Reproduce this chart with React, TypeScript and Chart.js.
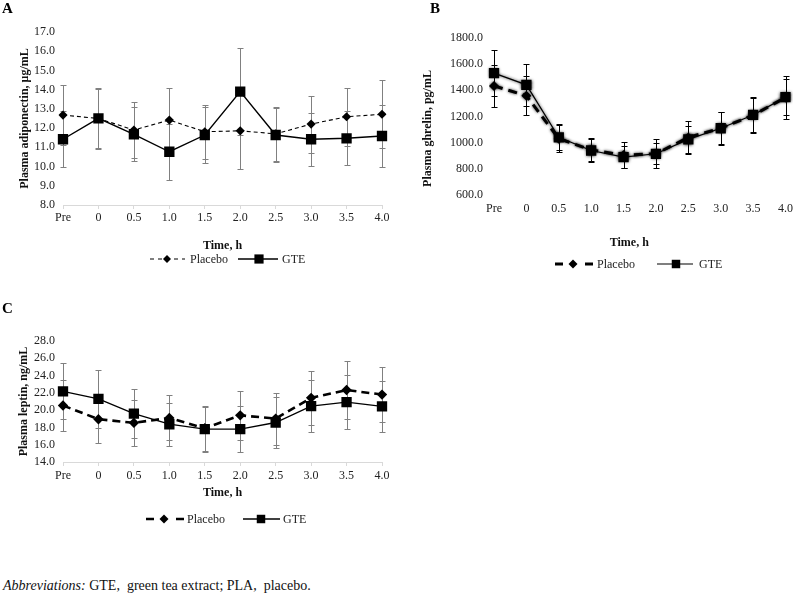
import React, { useEffect, useRef } from 'react';
import { Chart, registerables } from 'chart.js';

Chart.register(...registerables);
Chart.defaults.font.family = '"Liberation Serif", "Times New Roman", serif';

// ---------- DATA ----------
const timeLabels = ['Pre', '0', '0.5', '1.0', '1.5', '2.0', '2.5', '3.0', '3.5', '4.0'];

// Panel A: Plasma adiponectin, µg/mL
const adiponectinPlacebo = [12.68, 12.5, 11.9, 12.42, 11.81, 11.86, 11.7, 12.21, 12.59, 12.72];
const adiponectinPlaceboErr = [1.55, 1.55, 1.45, 1.65, 1.4, 2.0, 1.4, 1.48, 1.5, 1.77];
const adiponectinGTE = [11.42, 12.51, 11.68, 10.77, 11.64, 13.9, 11.64, 11.42, 11.47, 11.59];
const adiponectinGTEErr = [1.46, 1.6, 1.4, 1.45, 1.45, 2.25, 1.4, 1.37, 1.4, 1.6];

// Panel B: Plasma ghrelin, pg/mL
const ghrelinPlacebo = [1434, 1358, 1030, 945, 905, 915, 1040, 1110, 1210, 1345];
const ghrelinPlaceboErr = [158, 150, 105, 87, 98, 110, 125, 125, 134, 165];
const ghrelinGTE = [1532, 1442, 1041, 940, 890, 915, 1025, 1110, 1212, 1348];
const ghrelinGTEErr = [176, 160, 100, 87, 85, 80, 105, 122, 134, 138];

// Panel C: Plasma leptin, ng/mL
const leptinPlacebo = [20.54, 18.95, 18.53, 19.1, 17.9, 19.4, 19.02, 21.42, 22.33, 21.8];
const leptinPlaceboErr = [2.95, 2.8, 2.7, 2.6, 2.6, 2.8, 3.0, 3.1, 3.4, 3.2];
const leptinGTE = [22.18, 21.31, 19.59, 18.37, 17.8, 17.8, 18.57, 20.47, 20.93, 20.43];
const leptinGTEErr = [3.24, 3.34, 2.85, 2.5, 2.6, 2.7, 3.0, 3.0, 3.1, 2.95];

const seriesNames = ['Placebo', 'GTE'];

// ---------- PLUGINS ----------
const errorBarPlugin = {
  id: 'errorBars',
  beforeDatasetsDraw(chart: any, _args: any, opts: any) {
    const ctx = chart.ctx;
    const yScale = chart.scales.y;
    const cap = opts.cap ?? 3;
    ctx.save();
    ctx.strokeStyle = opts.color || '#808080';
    ctx.lineWidth = opts.width ?? 1;
    chart.data.datasets.forEach((ds: any, i: number) => {
      const errs: number[] | undefined = ds.errors;
      if (!errs) return;
      const meta = chart.getDatasetMeta(i);
      meta.data.forEach((pt: any, j: number) => {
        const v = ds.data[j];
        const e = errs[j];
        const x = Math.round(pt.x) + 0.5;
        const yT = Math.round(yScale.getPixelForValue(v + e)) + 0.5;
        const yB = Math.round(yScale.getPixelForValue(v - e)) + 0.5;
        ctx.beginPath();
        ctx.moveTo(x, yT);
        ctx.lineTo(x, yB);
        ctx.moveTo(x - cap, yT);
        ctx.lineTo(x + cap, yT);
        ctx.moveTo(x - cap, yB);
        ctx.lineTo(x + cap, yB);
        ctx.stroke();
      });
    });
    ctx.restore();
    if (opts.blur) {
      ctx.save();
      ctx.shadowColor = 'rgba(0,0,0,0.85)';
      ctx.shadowBlur = opts.blur;
    }
  },
  afterDatasetsDraw(chart: any, _args: any, opts: any) {
    if (opts.blur) chart.ctx.restore();
  },
};

function drawMarker(ctx: CanvasRenderingContext2D, style: string, x: number, y: number, r: number) {
  ctx.beginPath();
  if (style === 'rectRot') {
    ctx.moveTo(x - r, y);
    ctx.lineTo(x, y - r);
    ctx.lineTo(x + r, y);
    ctx.lineTo(x, y + r);
    ctx.closePath();
  } else {
    const h = r * Math.SQRT1_2;
    ctx.rect(x - h, y - h, 2 * h, 2 * h);
  }
  ctx.fill();
}

const lineLegendPlugin = {
  id: 'lineLegend',
  afterDraw(chart: any, _args: any, opts: any) {
    const items = opts.items;
    if (!items) return;
    const ctx = chart.ctx;
    const y = opts.y;
    items.forEach((it: any) => {
      const ds = chart.data.datasets[it.dataset];
      ctx.save();
      ctx.strokeStyle = ds.borderColor;
      ctx.lineWidth = ds.borderWidth;
      ctx.setLineDash(it.dash || []);
      ctx.beginPath();
      ctx.moveTo(it.x1, y);
      ctx.lineTo(it.x2, y);
      ctx.stroke();
      ctx.setLineDash([]);
      ctx.fillStyle = '#000';
      drawMarker(ctx, ds.pointStyle, it.mx, y, it.mr ?? ds.pointRadius * 0.8);
      ctx.fillStyle = '#222';
      ctx.font = '12px "Liberation Serif", "Times New Roman", serif';
      ctx.textBaseline = 'middle';
      ctx.textAlign = 'left';
      ctx.fillText(ds.label, it.tx, y + 0.5);
      ctx.restore();
    });
  },
};

// ---------- CONFIG BUILDER ----------
function makeConfig(p: any) {
  return {
    type: 'line',
    data: {
      labels: timeLabels,
      datasets: [
        {
          label: seriesNames[0],
          data: p.placebo,
          errors: p.placeboErr,
          borderColor: '#000',
          backgroundColor: '#000',
          borderWidth: p.placeboWidth,
          borderDash: p.placeboDash,
          pointStyle: 'rectRot',
          pointRadius: p.diamondR,
          pointBorderWidth: 0,
          pointBackgroundColor: '#000',
          tension: 0,
          fill: false,
          order: 1,
        },
        {
          label: seriesNames[1],
          data: p.gte,
          errors: p.gteErr,
          borderColor: '#000',
          backgroundColor: '#000',
          borderWidth: p.gteWidth,
          pointStyle: 'rect',
          pointRadius: p.squareR,
          pointBorderWidth: 0,
          pointBackgroundColor: '#000',
          tension: 0,
          fill: false,
          order: 0,
        },
      ],
    },
    options: {
      animation: false,
      responsive: false,
      devicePixelRatio: 1,
      events: [],
      layout: { padding: p.padding },
      plugins: {
        legend: { display: false },
        tooltip: { enabled: false },
        errorBars: { color: p.errColor, blur: p.blur, cap: 3 },
        lineLegend: { y: p.legendY, items: p.legendItems },
      },
      scales: {
        x: {
          type: 'category',
          offset: false,
          grid: {
            display: p.axisLine,
            drawOnChartArea: false,
            drawTicks: p.axisLine,
            tickLength: p.axisLine ? 4 : 0,
            color: '#d9d9d9',
          },
          border: { display: p.axisLine, color: '#d9d9d9', width: 1 },
          ticks: {
            padding: p.xTickPad,
            font: { size: 12 },
            color: '#222',
            maxRotation: 0,
            autoSkip: false,
          },
          title: {
            display: true,
            text: p.xTitle,
            font: { size: 12, weight: 'bold' },
            color: '#111',
            padding: { top: 0, bottom: p.xTitlePad },
          },
          afterFit: (s: any) => {
            s.height = p.xHeight;
          },
        },
        y: {
          type: 'linear',
          min: p.yMin,
          max: p.yMax,
          grid: { display: false, drawTicks: false, tickLength: 0 },
          border: { display: false },
          ticks: {
            stepSize: p.yStep,
            padding: p.yTickPad,
            autoSkip: false,
            font: { size: 12 },
            color: '#222',
            callback: (v: any) => Number(v).toFixed(1),
          },
          title: {
            display: true,
            text: p.yTitle,
            font: { size: 12, weight: 'bold' },
            color: '#111',
            padding: { top: p.yTitlePad, bottom: 0 },
          },
          afterFit: (s: any) => {
            s.width = p.yWidth;
          },
        },
      },
    },
    plugins: [errorBarPlugin, lineLegendPlugin],
  };
}

const configA = makeConfig({
  placebo: adiponectinPlacebo,
  placeboErr: adiponectinPlaceboErr,
  gte: adiponectinGTE,
  gteErr: adiponectinGTEErr,
  placeboWidth: 1.1,
  placeboDash: [4, 3],
  gteWidth: 1.4,
  diamondR: 4.6,
  squareR: 7.3,
  yMin: 8,
  yMax: 17,
  yStep: 1,
  yTitle: 'Plasma adiponectin, μg/mL',
  xTitle: 'Time, h',
  yWidth: 63,
  yTitlePad: 18,
  yTickPad: 8,
  xHeight: 48,
  xTickPad: 2,
  xTitlePad: 0,
  axisLine: true,
  padding: { left: 0, right: 18, top: 32, bottom: 27 },
  errColor: '#808080',
  blur: 0,
  legendY: 259,
  legendItems: [
    { dataset: 0, x1: 150, x2: 185, dash: [4, 4], mx: 167, mr: 4, tx: 190 },
    { dataset: 1, x1: 238, x2: 278, dash: [], mx: 259, mr: 6.5, tx: 282 },
  ],
});

const configB = makeConfig({
  placebo: ghrelinPlacebo,
  placeboErr: ghrelinPlaceboErr,
  gte: ghrelinGTE,
  gteErr: ghrelinGTEErr,
  placeboWidth: 3,
  placeboDash: [9, 6],
  gteWidth: 1.2,
  diamondR: 5,
  squareR: 7.3,
  yMin: 600,
  yMax: 1800,
  yStep: 200,
  yTitle: 'Plasma ghrelin, pg/mL        ',
  xTitle: 'Time, h       ',
  yWidth: 94,
  yTitlePad: 21,
  yTickPad: 11,
  xHeight: 56,
  xTickPad: 7,
  xTitlePad: 1,
  axisLine: false,
  padding: { left: 0, right: 9, top: 38, bottom: 29 },
  errColor: '#000',
  blur: 3,
  legendY: 264,
  legendItems: [
    { dataset: 0, x1: 155, x2: 193, dash: [8, 22], mx: 173, mr: 4.5, tx: 197 },
    { dataset: 1, x1: 257, x2: 293, dash: [], mx: 276, mr: 6, tx: 299 },
  ],
});

const configC = makeConfig({
  placebo: leptinPlacebo,
  placeboErr: leptinPlaceboErr,
  gte: leptinGTE,
  gteErr: leptinGTEErr,
  placeboWidth: 2.6,
  placeboDash: [8, 5],
  gteWidth: 1.3,
  diamondR: 5.2,
  squareR: 7.3,
  yMin: 14,
  yMax: 28,
  yStep: 2,
  yTitle: 'Plasma leptin, ng/mL',
  xTitle: 'Time, h',
  yWidth: 63,
  yTitlePad: 17,
  yTickPad: 8,
  xHeight: 39,
  xTickPad: 3,
  xTitlePad: 1,
  axisLine: true,
  padding: { left: 0, right: 18, top: 41, bottom: 39 },
  errColor: '#808080',
  blur: 0,
  legendY: 219,
  legendItems: [
    { dataset: 0, x1: 146, x2: 184, dash: [8, 22], mx: 164, mr: 4.5, tx: 187 },
    { dataset: 1, x1: 243, x2: 280, dash: [], mx: 261, mr: 6, tx: 283 },
  ],
});

function ChartPanel(props: { left: number; top: number; width: number; height: number; config: any }) {
  const ref = useRef<HTMLCanvasElement>(null);
  useEffect(() => {
    const chart = new Chart(ref.current as HTMLCanvasElement, props.config);
    return () => chart.destroy();
  }, []);
  return (
    <canvas
      ref={ref}
      width={props.width}
      height={props.height}
      style={{ position: 'absolute', left: props.left, top: props.top, width: props.width, height: props.height }}
    />
  );
}

const letterStyle: React.CSSProperties = {
  position: 'absolute',
  fontWeight: 'bold',
  fontSize: 15,
  lineHeight: '15px',
  color: '#000',
};

export default function App() {
  return (
    <div
      style={{
        position: 'absolute',
        left: 0,
        top: 0,
        width: 800,
        height: 597,
        background: '#fff',
        overflow: 'hidden',
        fontFamily: '"Liberation Serif", "Times New Roman", serif',
      }}
    >
      <ChartPanel left={0} top={0} width={400} height={280} config={configA} />
      <ChartPanel left={400} top={0} width={400} height={280} config={configB} />
      <ChartPanel left={0} top={300} width={400} height={240} config={configC} />
      <div style={{ ...letterStyle, left: 2, top: 1 }}>A</div>
      <div style={{ ...letterStyle, left: 430, top: 1 }}>B</div>
      <div style={{ ...letterStyle, left: 2, top: 301 }}>C</div>
      <div
        style={{
          position: 'absolute',
          left: 3,
          top: 579,
          fontSize: 14,
          lineHeight: '14px',
          whiteSpace: 'pre',
          color: '#111',
        }}
      >
        <span style={{ fontStyle: 'italic' }}>Abbreviations:</span>
        {' GTE,  green tea extract; PLA,  placebo.'}
      </div>
    </div>
  );
}
